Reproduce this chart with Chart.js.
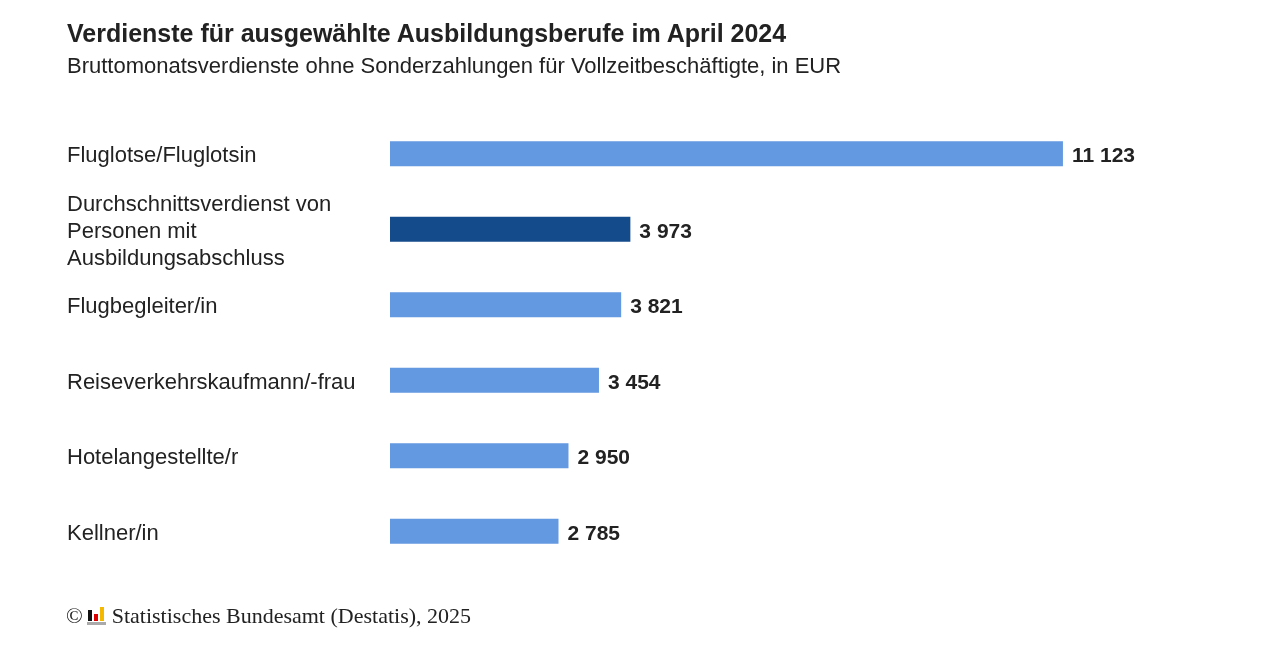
<!DOCTYPE html>
<html><head><meta charset="utf-8">
<script src="https://cdn.jsdelivr.net/npm/chart.js@4"></script>
<style>
html,body{margin:0;padding:0;background:#fff;width:1280px;height:649px;overflow:hidden;font-family:"Liberation Sans",Arial,sans-serif;color:#222}
#title{position:absolute;left:67px;top:19px;font-size:25px;font-weight:bold;white-space:nowrap}
#sub{position:absolute;left:67px;top:53px;font-size:22px;white-space:nowrap}
#foot{position:absolute;left:66px;top:603px;font-family:"Liberation Serif","Times New Roman",serif;font-size:22px;white-space:nowrap;display:flex;align-items:center}
#logo{display:inline-block;position:relative;width:19px;height:18px;margin:0 6px 0 4px}
#wrap{position:absolute;left:0;top:0;width:1280px;height:649px}
</style></head>
<body>
<div id="wrap"><canvas id="c"></canvas></div>
<div id="title">Verdienste für ausgewählte Ausbildungsberufe im April 2024</div>
<div id="sub">Bruttomonatsverdienste ohne Sonderzahlungen für Vollzeitbeschäftigte, in EUR</div>
<div id="foot">©<span id="logo">
<span style="position:absolute;left:1px;top:3px;width:4px;height:11px;background:#111"></span>
<span style="position:absolute;left:7px;top:7px;width:4px;height:7px;background:#d00"></span>
<span style="position:absolute;left:13px;top:0px;width:4px;height:14px;background:#f5b800"></span>
<span style="position:absolute;left:0px;top:15px;width:19px;height:3px;background:#aaa"></span>
</span>Statistisches Bundesamt (Destatis), 2025</div>
<script>
const categories = [
  "Fluglotse/Fluglotsin",
  ["Durchschnittsverdienst von","Personen mit","Ausbildungsabschluss"],
  "Flugbegleiter/in",
  "Reiseverkehrskaufmann/-frau",
  "Hotelangestellte/r",
  "Kellner/in"
];
const values = [11123, 3973, 3821, 3454, 2950, 2785];
const barColors = ["#6399e0","#144b8b","#6399e0","#6399e0","#6399e0","#6399e0"];

function fmt(v){return String(v).replace(/\B(?=(\d{3})+(?!\d))/g,' ');}

const labelPlugin = {
  id:'vals',
  afterDatasetsDraw(chart){
    const ctx = chart.ctx;
    const meta = chart.getDatasetMeta(0);
    ctx.save();
    ctx.font = 'bold 21px "Liberation Sans", Arial, sans-serif';
    ctx.fillStyle = '#222';
    ctx.textBaseline = 'middle';
    ctx.textAlign = 'left';
    meta.data.forEach((bar,i)=>{
      ctx.fillText(fmt(values[i]), bar.x + 9, bar.y + 2.5);
    });
    ctx.restore();
  }
};

new Chart(document.getElementById('c'), {
  type:'bar',
  data:{labels:categories, datasets:[{data:values, backgroundColor:barColors, borderWidth:0, barPercentage:0.332, categoryPercentage:1}]},
  options:{
    indexAxis:'y',
    responsive:true, maintainAspectRatio:false, animation:false,
    layout:{padding:{top:116,bottom:80,left:67,right:43}},
    plugins:{legend:{display:false},tooltip:{enabled:false}},
    scales:{
      x:{display:false,min:0,max:14000},
      y:{
        grid:{display:false},border:{display:false},
        afterFit(s){s.width=323;},
        ticks:{autoSkip:false,crossAlign:'far',padding:0,labelOffset:2.5,color:'#222',font:{size:22,family:'"Liberation Sans", Arial, sans-serif',lineHeight:1.24}}
      }
    }
  },
  plugins:[labelPlugin]
});
</script>
</body></html>
